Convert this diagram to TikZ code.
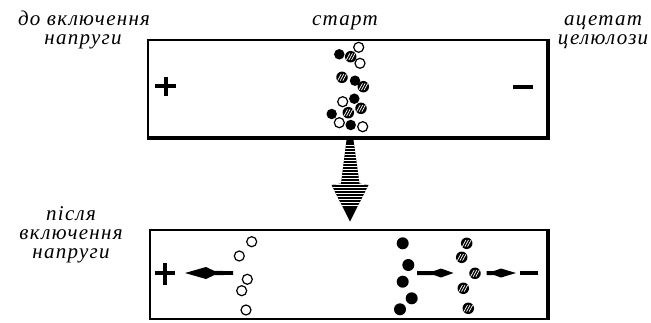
\documentclass[tikz,border=0pt]{standalone}
\usepackage{fontspec}
\setmainfont{Liberation Serif}
\newfontfamily\lab[LetterSpace=6]{Liberation Serif}
\begin{document}
\begin{tikzpicture}[x=1pt,y=-1pt,
 lbl/.style={font=\lab\itshape\fontsize{21}{22}\selectfont, inner sep=0, anchor=base},
 odot/.style={circle, draw, line width=1.2pt, minimum size=10pt, inner sep=0},
 bdot/.style={circle, fill, minimum size=10.5pt, inner sep=0},
 bigb/.style={bdot, minimum size=12pt},
 hdot/.style={circle, fill, minimum size=11.5pt, inner sep=0,
   path picture={\foreach \d in {-2.6,0,2.6}{\draw[white,line width=0.7pt] ([xshift=\d pt]path picture bounding box.center) ++(-1.8pt,-3.3pt) -- ++(3.6pt,6.6pt);}}},
 strip/.style={draw, line width=2pt, inner sep=0},
 sign/.style={line width=4pt},
 arr/.style={fill=black}
]
\useasboundingbox (0,0) rectangle (651,322);
% labels
\node[lbl] (l1) at (84,25) {до включення};
\node[lbl] (l2) at (83,44) {напруги};
\node[lbl] (st) at (345,25.5) {старт};
\node[lbl] (a1) at (603,25) {ацетат};
\node[lbl] (a2) at (603,44) {целюлози};
\node[lbl] (p1) at (71,220) {після};
\node[lbl] (p2) at (71,239.3) {включення};
\node[lbl] (p3) at (71,258.6) {напруги};
% top strip
\node[strip, minimum width=399pt, minimum height=97pt] (top) at (347.5,88.5) {};
\draw[line width=3.2pt] (top.north east) -- (top.south east) -- (top.south west);
\draw[sign] (155,86) -- (176,86) (165.5,76.5) -- (165.5,96);
\draw[sign] (513,86.5) -- (533,86.5);
% top dots
\node[bdot] (t1) at (339.3,54.3) {};
\node[hdot] (t2) at (350.7,56.7) {};
\node[odot] (t3) at (358.7,47.3) {};
\node[odot] (t4) at (360,63.3) {};
\node[hdot] (t5) at (342,77.3) {};
\node[bdot] (t6) at (355,80.7) {};
\node[hdot] (t7) at (363.3,86.7) {};
\node[bdot] (t8) at (354.3,98.7) {};
\node[odot] (t9) at (342.7,101.7) {};
\node[hdot] (t10) at (361,108.3) {};
\node[bdot] (t11) at (331.7,114) {};
\node[hdot] (t12) at (348.3,112.7) {};
\node[odot] (t13) at (339.3,122.7) {};
\node[bdot] (t14) at (350.7,125) {};
\node[odot] (t15) at (362.7,126.7) {};
% big down arrow
\begin{scope}
\path[fill=black] (346.5,140) -- (353.5,140) -- (359.5,183.5) -- (368.5,185) -- (350,221.5) -- (331.5,185) -- (341,183.5) -- cycle;
\clip (346.5,140) -- (353.5,140) -- (359.5,183.5) -- (368.5,185) -- (350,221.5) -- (331.5,185) -- (341,183.5) -- cycle;
\foreach \yy in {145,148,...,206}{\draw[white,line width=0.9pt] (330,\yy) -- (370,\yy);}
\end{scope}
% bottom strip
\node[strip, minimum width=397pt, minimum height=89pt] (bot) at (348.5,274.5) {};
\draw[line width=3.2pt] (bot.north east) -- (bot.south east);
\draw[sign] (155,273) -- (175,273) (165,263) -- (165,285);
\draw[sign] (520,273) -- (538,273);
\fill[arr] (185,273) -- (206,267) -- (214,270.8) -- (233,271.2) -- (233,274.8) -- (214,275.2) -- (206,279) -- cycle;
\fill[arr] (417,271) -- (434,271) -- (441,268.5) -- (453.5,273) -- (441,277.5) -- (434,275) -- (417,275) -- cycle;
\fill[arr] (486.5,271) -- (494,271) -- (501,268.5) -- (516,273) -- (501,277.5) -- (494,275) -- (486.5,275) -- cycle;
% bottom dots
\node[odot] (o1) at (251.7,241.7) {};
\node[odot] (o2) at (239.3,256) {};
\node[odot] (o3) at (247.3,279.3) {};
\node[odot] (o4) at (241.7,290.7) {};
\node[odot] (o5) at (246,310) {};
\node[bigb] (b1) at (402.7,243.3) {};
\node[bigb] (b2) at (408.3,265) {};
\node[bigb] (b3) at (402.7,281.7) {};
\node[bigb] (b4) at (411.7,298.3) {};
\node[bigb] (b5) at (400,309.3) {};
\node[hdot] (h1) at (466.7,243.3) {};
\node[hdot] (h2) at (461.7,257.3) {};
\node[hdot] (h3) at (475,273.3) {};
\node[hdot] (h4) at (463.3,288.3) {};
\node[hdot] (h5) at (468.3,308.3) {};
\end{tikzpicture}
\end{document}
